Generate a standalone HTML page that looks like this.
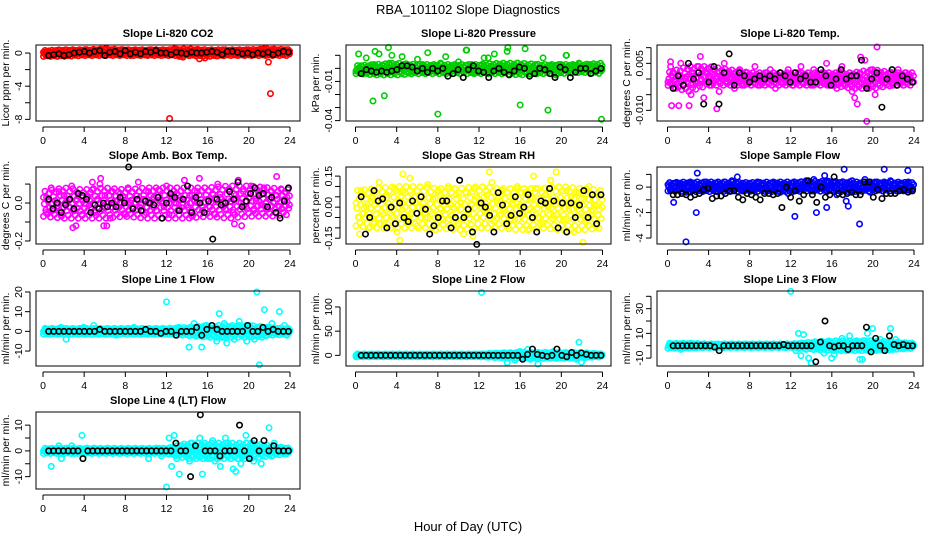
<!DOCTYPE html>
<html><head><meta charset="utf-8"><title>RBA_101102 Slope Diagnostics</title>
<style>
html,body{margin:0;padding:0;background:#fff;}
svg{display:block;font-family:"Liberation Sans",Arial,sans-serif;}
</style></head>
<body>
<svg id="chart" width="936" height="540" viewBox="0 0 936 540">
<text x="468" y="14" text-anchor="middle" font-size="13">RBA_101102  Slope Diagnostics</text>
<text x="468" y="531" text-anchor="middle" font-size="13">Hour of Day (UTC)</text>
<g id="panels"></g>
</svg>
<script>
// ---- data (hand-estimated from the reference) ----
const xTicks = [0,4,8,12,16,20,24];
// dense-band envelope per panel, every 2 hours (0..24)
const co2BandLo = [-0.4,-0.4,-0.3,-0.3,-0.3,-0.3,-0.3,-0.3,-0.4,-0.3,-0.3,-0.3,-0.3];
const co2BandHi = [0.3,0.4,0.4,0.5,0.4,0.4,0.4,0.5,0.4,0.4,0.4,0.5,0.4];
const presBandLo = [-0.004,-0.005,-0.005,-0.004,-0.004,-0.004,-0.004,-0.004,-0.005,-0.004,-0.004,-0.003,-0.004];
const presBandHi = [0.002,0.003,0.004,0.003,0.003,0.003,0.003,0.004,0.004,0.003,0.003,0.003,0.004];
const tempBandLo = [-0.002,-0.004,-0.002,-0.002,-0.002,-0.002,-0.002,-0.002,-0.002,-0.003,-0.003,-0.002,-0.002];
const tempBandHi = [0.002,0.004,0.004,0.003,0.002,0.002,0.002,0.002,0.002,0.002,0.003,0.002,0.002];
const ambBandLo = [-0.07,-0.08,-0.08,-0.08,-0.07,-0.08,-0.08,-0.08,-0.07,-0.08,-0.07,-0.07,-0.06];
const ambBandHi = [0.06,0.08,0.07,0.08,0.07,0.08,0.08,0.08,0.08,0.09,0.09,0.08,0.07];
const rhBandLo = [-0.09,-0.10,-0.10,-0.10,-0.10,-0.11,-0.10,-0.10,-0.11,-0.10,-0.11,-0.11,-0.10];
const rhBandHi = [0.08,0.09,0.10,0.10,0.09,0.09,0.10,0.09,0.09,0.09,0.10,0.09,0.08];
const flowBandLo = [-0.3,-0.35,-0.35,-0.35,-0.3,-0.35,-0.35,-0.3,-0.35,-0.35,-0.3,-0.3,-0.3];
const flowBandHi = [0.35,0.4,0.4,0.4,0.35,0.4,0.4,0.45,0.45,0.4,0.4,0.4,0.35];
const line1BandLo = [-1.5,-1.5,-1.5,-1.5,-1.5,-1.5,-1.5,-2,-3,-3,-3,-2,-1.5];
const line1BandHi = [1.5,1.5,1.5,1.5,1.5,1.5,1.5,2,3,3,3,2,1.5];
const line2BandLo = [-3,-3,-3,-3,-3,-3,-3,-5,-6,-6,-6,-5,-3];
const line2BandHi = [3,3,3,3,3,3,3,5,6,6,6,5,3];
const line3BandLo = [-2,-2,-1.5,-1.5,-1.5,-1.5,-1.5,-3,-4,-4,-4,-3,-2];
const line3BandHi = [2,2,1.5,1.5,1.5,1.5,1.5,3,4,4,4,3,2];
const line4BandLo = [-1,-1,-1,-1,-1,-1,-1,-3,-3,-3,-3,-2,-1];
const line4BandHi = [1,1,1,1,1,1,1,3,3,3,3,2,1];

const co2Color = [0.1,-0.3,0.2,0.0,-0.2,0.3,0.1,-0.1,0.2,-0.3,0.0,0.3,-0.2,0.1,0.2,-0.1,0.4,0.0,-0.2,0.1,0.3,-0.1,0.2,0.0,0.5,0.1,-0.2,0.3,0.0,0.2,-0.1,0.4,0.1,0.0,-0.3,0.2,0.3,-0.1,0.1,0.2,0.0,-0.2,0.4,0.1,0.2,-0.1,0.3,0.0,0.2,0.1,-0.2,0.5,0.0,-0.4,0.2,0.1,0.3,-0.1,0.0,0.2,0.4,-0.3,0.1,-0.6,0.2,0.0,0.3,0.1,-0.1,0.2,0.4,0.0,-0.2,0.1,0.3,0.2,-0.1,0.0,0.2,-0.2,0.4,0.1,0.0,-0.1,0.3,0.2,0.5,-0.2,0.1,0.0,0.3,-0.1,0.2,0.1,0.4,0.0,-0.1];
const co2OutX = [12.3,22.1,21.9,15.2,13.6];
const co2OutY = [-7.9,-4.9,-1.1,-0.7,-0.5];
const co2Black = [-0.3,-0.2,-0.1,-0.3,-0.2,0.0,0.1,0.2,0.0,0.2,0.3,-0.3,0.1,0.2,-0.1,0.3,-0.1,0.1,-0.1,0.2,0.1,0.3,0.0,0.0,-0.2,0.1,0.0,-0.1,0.1,0.0,0.0,0.1,0.2,0.1,-0.2,0.2,0.2,0.1,-0.1,0.0,-0.2,0.0,-0.1,0.1,-0.2,0.0,0.2,0.1];

// pressure values in thousandths of kPa/min
const presColor = [-2,0,2,-3,8,-1,1,3,-2,11,0,2,-1,4,10,0,-2,1,9,-1,2,0,-3,1,7,-1,3,0,12,1,-2,2,-1,4,0,9,1,-2,0,2,5,-1,1,14,0,3,-3,1,-1,2,8,0,-2,1,11,-1,3,0,2,13,0,-2,1,4,-1,2,15,0,-4,1,3,-1,0,8,-2,1,2,-1,-5,0,3,1,10,-1,0,2,1,4,0,-1,1,3,0,2,1,0,-1].map(v=>v/1000);
const presOutX = [1.7,2.8,8.0,16.0,18.7,23.9,3.2,14.8,10.8,0.3,1.9,20.5,12.9];
const presOutY = [-0.025,-0.021,-0.035,-0.028,-0.032,-0.039,0.016,0.016,0.014,0.011,0.013,0.010,0.008];
const presBlack = [-4,-1,-2,-3,-2,-3,-2,-1,2,2,1,-2,0,-3,0,-2,0,-6,-4,-1,-7,-1,2,-2,-3,-7,-2,0,-3,-5,-2,1,0,-6,-4,0,-1,-4,-7,1,-1,-7,-3,0,0,-4,-2,0].map(v=>v/1000);

// temperature values in thousandths
const tempColor = [-1,4,2,-3,1,5,-2,0,3,-5,2,-1,4,0,-6,2,1,-2,3,0,-4,1,5,-1,2,0,-3,1,3,-2,0,2,-1,1,4,0,-2,1,2,-1,3,0,-3,1,2,0,-1,3,1,-2,0,2,4,-1,1,0,-2,3,1,0,-1,2,5,-2,0,1,-3,2,4,0,-1,1,-4,-6,-8,2,0,6,-2,1,3,-5,0,2,1,-1,0,2,-2,1,3,0,-1,2,1,0,-1].map(v=>v/1000);
const tempOutX = [0.4,1.1,2.1,4.8,19.4,20.4,0.3,3.2,18.8];
const tempOutY = [-0.0085,-0.0085,-0.0085,-0.0095,-0.0135,0.0102,0.0055,0.0072,0.007];
const tempBlack = [-3,1,-2,5,0,2,-8,-1,4,-8,2,8,-2,2,1,-1,0,1,0,1,0,2,1,-1,2,0,1,-1,-1,3,1,-2,0,3,0,1,1,6,-3,0,2,-9,0,3,-2,1,0,-1].map(v=>v/1000);

// amb box temp in hundredths
const ambColor = [3,-5,2,8,-3,0,6,-7,4,1,-2,9,-4,2,5,-6,0,3,-1,7,-5,2,10,-3,4,0,-8,6,1,-2,5,3,-6,8,0,-3,4,11,-1,2,-5,6,0,3,-4,7,1,-2,9,-6,3,0,5,-3,2,12,-1,4,-7,1,6,0,-4,8,2,-2,5,-6,10,3,0,-3,7,1,-5,4,12,0,6,-2,3,9,-4,1,5,-1,8,-3,2,6,0,4,-2,7,1,3,-1].map(v=>v/100);
const ambOutX = [2.9,3.2,5.9,6.2,18.6,19.3,4.8,5.6,22.7,15.2];
const ambOutY = [-0.13,-0.12,-0.12,-0.12,-0.11,-0.12,0.11,0.13,0.14,0.13];
const ambBlack = [2,-3,0,-5,-1,2,-3,5,4,2,-5,-1,-3,0,-2,0,-2,3,0,19,-3,2,-4,1,0,-1,3,-8,0,5,3,-4,2,9,-5,3,0,-5,1,-19,2,-1,0,6,2,11,-2,1,5,8,4,5,-2,3,-5,-8,1,8].map(v=>v/100);

// RH in hundredths
const rhColor = [2,-5,8,-3,0,-10,5,-7,3,12,-2,-8,6,0,-4,9,-12,3,-1,7,-6,14,-3,2,-9,5,0,-5,11,-2,4,-11,8,-1,-6,3,10,-4,0,6,-8,2,-13,7,-3,1,9,-5,4,-10,0,6,-2,12,-7,3,-4,8,-1,-9,5,2,-6,10,0,-3,7,-11,4,-2,9,-5,1,-8,6,0,13,-4,3,-10,2,-6,8,-1,5,-12,0,7,-3,4,-7,10,-2,1,-9,6,0].map(v=>v/100);
const rhOutX = [4.3,19.5,13.0,22.1,0.4,4.6,11.4,17.3];
const rhOutY = [-0.16,0.17,0.17,-0.17,-0.13,0.16,-0.14,0.15];
const rhBlack = [5,-13,-5,8,3,4,-10,0,-8,2,-5,-7,3,-3,5,-1,-13,-9,-5,3,3,-10,-5,13,-5,-1,-12,-18,2,0,-4,-12,7,1,-8,-4,5,-3,0,6,-5,-12,3,2,9,3,-10,2,-12,2,-5,1,8,-5,6,-8,6].map(v=>v/100);

const flowColor = [0.2,-0.3,0.1,0.3,-0.2,0.0,0.2,-0.4,0.1,0.3,0.0,-0.2,0.2,0.1,-0.3,0.4,0.0,0.2,-0.1,0.3,0.1,-0.2,0.4,0.0,0.2,0.5,-0.1,0.3,0.1,-0.3,0.2,0.0,0.3,-0.2,0.1,0.4,-0.1,0.2,0.0,-0.3,0.1,0.3,0.0,0.2,-0.4,0.1,0.2,-0.5,0.0,0.3,0.1,-0.2,0.4,0.0,0.5,0.2,-0.3,0.6,0.1,-0.1,0.3,0.0,0.5,-0.2,0.2,0.4,-0.6,0.1,0.3,0.0,0.2,-0.2,0.5,0.1,0.0,0.3,-0.1,0.6,0.2,-0.4,0.1,0.4,0.0,0.2,-0.3,0.3,0.1,0.5,-0.1,0.2,0.0,0.3,-0.2,0.1,0.4,0.0,0.2];
const flowOutX = [1.8,0.6,2.8,2.9,12.4,14.5,15.5,17.4,17.6,18.7,17.2,21.1,23.4,15.3,6.8];
const flowOutY = [-4.3,-1.2,-2.0,1.1,-2.3,-2.0,-1.6,-1.1,-1.5,-2.9,1.4,1.4,1.3,0.9,0.8];
const flowBlack = [-0.6,-0.6,-0.5,-0.6,-0.8,-0.6,-0.5,-0.2,-0.1,-0.9,-0.7,-0.7,-0.5,-0.3,-0.3,-0.8,-1.0,-0.5,-0.6,-0.8,-1.0,-0.5,-0.5,-0.6,-0.5,-1.6,0.0,-0.8,-0.3,-1.1,-0.6,0.5,-0.6,-1.2,0.0,-0.8,-0.6,0.8,-0.5,-0.6,-0.5,-0.4,-0.6,-0.6,0.4,0.4,-0.8,-0.2,-0.9,-0.5,-0.5,-0.5,-0.3,-0.2,-0.4,-0.3];

const line1Color = [0,1,-1,0,1,0,-1,2,0,-4,0,1,0,-1,1,0,2,-1,0,1,3,0,-1,1,0,-1,0,1,0,-2,1,0,-1,0,1,0,2,0,-1,0,1,-1,0,1,0,-1,0,0,1,15,0,-1,1,0,2,-1,0,1,-8,2,4,-2,0,-8,1,3,-2,0,1,-5,9,-3,4,-6,-1,2,-4,0,5,-2,1,-5,3,0,-4,20,-17,-3,11,-2,2,4,-1,0,10,-1,3,-2,0];
const line1Black = [0,0,0,0,0,0,0,0,0,0,1,0,0,0,0,0,0,0,0,1,0,0,-1,0,0,-2,0,0,0,2,-2,1,3,1,0,0,0,0,0,3,0,0,2,0,1,0,0,0];

const line2Color = [0,1,-1,0,0,1,-1,0,2,0,-1,0,1,0,-1,0,1,0,0,-1,1,0,0,1,-1,0,0,1,0,-1,0,0,1,0,-1,0,1,0,0,-1,0,1,0,0,-1,0,0,0,0,130,1,-1,0,2,-1,0,1,-3,5,-15,3,0,-10,2,8,-5,0,12,-8,3,5,-18,-2,0,6,-4,2,8,-6,1,-3,0,4,-5,2,6,-8,27,-14,3,5,-2,0,4,-1,2,0];
const line2Black = [0,0,0,0,0,0,0,0,0,0,0,0,0,0,0,0,0,0,0,0,0,0,0,0,0,0,0,0,0,0,0,0,0,-8,2,13,2,0,-2,0,13,0,-3,6,0,5,2,0,0,0];

const line3Color = [-2,0,1,-1,0,-3,1,0,-1,2,0,-1,0,1,0,-1,0,1,0,0,-1,1,0,0,1,-1,0,0,1,0,-1,0,0,1,0,-1,0,1,0,0,-1,0,1,0,0,-1,0,0,44,1,-4,10,-8,9,-3,-10,-14,2,0,-2,1,-6,0,3,-10,-7,1,-3,6,2,-4,8,0,-1,3,-11,-11,4,10,-2,14,0,-3,5,2,-1,1,14,-3,5,0,2,-1,0,1,-2,0];
const line3Black = [0,0,0,0,0,0,0,0,0,-1,-4,0,0,0,0,0,0,0,0,0,0,0,0,0,1,0,0,0,0,0,0,-13,3,20,0,-1,0,0,-3,0,0,0,15,-5,6,0,-4,8,1,0,1,0,0];

const line4Color = [0,0,0,-6,0,0,2,-3,0,1,0,2,-1,0,0,6,0,1,0,0,1,0,0,0,0,1,0,0,0,0,0,0,0,0,0,0,0,0,0,0,-1,-3,0,0,0,1,-2,0,-14,5,-6,6,-3,-9,2,-1,0,-4,3,1,-2,5,-9,2,-3,0,4,-4,0,-6,1,5,3,0,-7,-8,0,-5,-2,6,0,3,-4,1,0,-5,2,0,9,-2,3,0,1,0,-1,0,0];
const line4Black = [0,0,0,0,0,0,0,-3,0,0,0,0,0,0,0,0,0,0,0,0,0,0,0,0,0,0,3,0,0,-10,2,14,0,0,0,-2,0,0,0,10,0,-3,4,0,4,0,2,0,0,0];

const yTicksCO2 = [-8,-6,-4,-2,0];            const yLabelsCO2 = ["-8","","-4","","0"];
const yTicksPres = [-0.04,-0.03,-0.02,-0.01,0,0.01]; const yLabelsPres = ["-0.04","","","-0.01","",""];
const yTicksTemp = [-0.010,-0.005,0,0.005,0.010];    const yLabelsTemp = ["-0.010","","","0.005",""];
const yTicksAmb = [-0.2,-0.1,0,0.1];          const yLabelsAmb = ["-0.2","","0.0",""];
const yTicksRH = [-0.15,-0.10,-0.05,0,0.05,0.10,0.15]; const yLabelsRH = ["-0.15","","","0.00","","","0.15"];
const yTicksFlow = [-4,-3,-2,-1,0,1];         const yLabelsFlow = ["-4","","-2","","0",""];
const yTicksL1 = [-10,0,10,20];               const yLabelsL1 = ["-10","0","10","20"];
const yTicksL2 = [0,50,100];                  const yLabelsL2 = ["0","50","100"];
const yTicksL3 = [-10,0,10,20,30,40];         const yLabelsL3 = ["-10","","10","","30",""];
const yTicksL4 = [-10,-5,0,5,10];             const yLabelsL4 = ["-10","","0","","10"];

// ---- layout ----
const cols = [{l:36,r:300,x0:43,x24:290},{l:346,r:611,x0:355.5,x24:602.5},{l:657,r:923,x0:667.5,x24:914}];
const rows = [{t:45,b:121},{t:167,b:244},{t:291,b:366},{t:412,b:489}];
const bandPattern = [0,0.5,1,0.25,0.75,0.1,0.6,0.9,0.35];
const NS = "http://www.w3.org/2000/svg";
const root = document.getElementById('panels');

function mk(tag, attrs, parent){
  const e = document.createElementNS(NS, tag);
  for (const k in attrs) e.setAttribute(k, attrs[k]);
  parent.appendChild(e);
  return e;
}

function panel(p){
  const c = cols[p.col], r = rows[p.row];
  const g = mk('g', {}, root);
  
  
  const xs = h => c.x0 + (h/24)*(c.x24 - c.x0);
  const ys = v => r.b - (v - p.ymin)/(p.ymax - p.ymin)*(r.b - r.t);

  const title = mk('text', {x:(c.l+c.r)/2, y:r.t-8, 'text-anchor':'middle', 'font-size':'11', 'font-weight':'bold'}, g);
  title.textContent = p.title;
  
  

  const yt = mk('text', {transform:`translate(${c.l-27},${(r.t+r.b)/2}) rotate(-90)`, 'text-anchor':'middle', 'font-size':'10.5'}, g);
  yt.textContent = p.ylab;
  
  

  const pts = mk('g', {fill:'none', 'stroke-width':'1.6'}, g);
  
  
  const dot = (x, y, col, nm) => {
    const cy = ys(y);
    if (cy < r.t - 1 || cy > r.b + 1) return;
    const e = mk('circle', {cx:xs(x), cy:cy, r:2.7, stroke:col}, pts);
    
    
  };
  // dense band from envelope arrays
  const nBand = 320;
  for (let k = 0; k < nBand; k++) {
    const h = 0.05 + k*23.9/(nBand-1);
    const seg = Math.min(p.bandLo.length-2, Math.floor(h/2));
    const t = h/2 - seg;
    const lo = p.bandLo[seg]*(1-t) + p.bandLo[seg+1]*t;
    const hi = p.bandHi[seg]*(1-t) + p.bandHi[seg+1]*t;
    dot(h, lo + bandPattern[k % bandPattern.length]*(hi-lo), p.col_c, p.name + '-band-point');
  }
  const n = p.color.length;
  p.color.forEach((v,i) => dot(0.05 + i*23.9/(n-1), v, p.col_c, p.name + '-point'));
  (p.outX||[]).forEach((x,i) => dot(x, p.outY[i], p.col_c, p.name + '-outlier'));
  const nb = p.black.length;
  p.black.forEach((v,i) => dot(0.55 + i*23.3/(nb-1), v, '#000', p.name + '-hourly-point'));

  const frame = mk('rect', {x:c.l, y:r.t, width:c.r-c.l, height:r.b-r.t, fill:'none', stroke:'#000', 'stroke-width':'1'}, g);
  
  

  const xa = mk('g', {}, g);
  
  
  mk('line', {x1:xs(xTicks[0]), x2:xs(xTicks[xTicks.length-1]), y1:r.b+6, y2:r.b+6, stroke:'#000'}, xa);
  xTicks.forEach(t => {
    mk('line', {x1:xs(t), x2:xs(t), y1:r.b+6, y2:r.b+11, stroke:'#000'}, xa);
    const tx = mk('text', {x:xs(t), y:r.b+23, 'text-anchor':'middle', 'font-size':'10.5'}, xa);
    tx.textContent = String(t);
    
    
  });

  const ya = mk('g', {}, g);
  
  
  const ty = p.yticks.map(ys);
  mk('line', {x1:c.l-6, x2:c.l-6, y1:Math.min(...ty), y2:Math.max(...ty), stroke:'#000'}, ya);
  p.yticks.forEach((t,i) => {
    const y = ys(t);
    mk('line', {x1:c.l-11, x2:c.l-6, y1:y, y2:y, stroke:'#000'}, ya);
    if (p.ylabels[i]) {
      const tx = mk('text', {transform:`translate(${c.l-14},${y}) rotate(-90)`, 'text-anchor':'middle', 'font-size':'10.5'}, ya);
      tx.textContent = p.ylabels[i];
      
      
    }
  });
}

panel({name:'co2', title:'Slope Li-820 CO2', ylab:'Licor ppm per min.', col:0,row:0, ymin:-8.2, ymax:0.97, col_c:'#ff0000', bandLo:co2BandLo, bandHi:co2BandHi, color:co2Color, outX:co2OutX, outY:co2OutY, black:co2Black, yticks:yTicksCO2, ylabels:yLabelsCO2});
panel({name:'pressure', title:'Slope Li-820 Pressure', ylab:'kPa per min.', col:1,row:0, ymin:-0.0403, ymax:0.0179, col_c:'#00cd00', bandLo:presBandLo, bandHi:presBandHi, color:presColor, outX:presOutX, outY:presOutY, black:presBlack, yticks:yTicksPres, ylabels:yLabelsPres});
panel({name:'temp', title:'Slope Li-820 Temp.', ylab:'degrees C per min.', col:2,row:0, ymin:-0.0134, ymax:0.01085, col_c:'#ff00ff', bandLo:tempBandLo, bandHi:tempBandHi, color:tempColor, outX:tempOutX, outY:tempOutY, black:tempBlack, yticks:yTicksTemp, ylabels:yLabelsTemp});
panel({name:'amb-box', title:'Slope Amb. Box Temp.', ylab:'degrees C per min.', col:0,row:1, ymin:-0.216, ymax:0.19, col_c:'#ff00ff', bandLo:ambBandLo, bandHi:ambBandHi, color:ambColor, outX:ambOutX, outY:ambOutY, black:ambBlack, yticks:yTicksAmb, ylabels:yLabelsAmb});
panel({name:'gas-rh', title:'Slope Gas Stream RH', ylab:'percent per min.', col:1,row:1, ymin:-0.178, ymax:0.194, col_c:'#ffff00', bandLo:rhBandLo, bandHi:rhBandHi, color:rhColor, outX:rhOutX, outY:rhOutY, black:rhBlack, yticks:yTicksRH, ylabels:yLabelsRH});
panel({name:'sample-flow', title:'Slope Sample Flow', ylab:'ml/min per min.', col:2,row:1, ymin:-4.47, ymax:1.58, col_c:'#0000ff', bandLo:flowBandLo, bandHi:flowBandHi, color:flowColor, outX:flowOutX, outY:flowOutY, black:flowBlack, yticks:yTicksFlow, ylabels:yLabelsFlow});
panel({name:'line1', title:'Slope Line 1 Flow', ylab:'ml/min per min.', col:0,row:2, ymin:-17.6, ymax:20.5, col_c:'#00ffff', bandLo:line1BandLo, bandHi:line1BandHi, color:line1Color, black:line1Black, yticks:yTicksL1, ylabels:yLabelsL1});
panel({name:'line2', title:'Slope Line 2 Flow', ylab:'ml/min per min.', col:1,row:2, ymin:-22, ymax:133, col_c:'#00ffff', bandLo:line2BandLo, bandHi:line2BandHi, color:line2Color, black:line2Black, yticks:yTicksL2, ylabels:yLabelsL2});
panel({name:'line3', title:'Slope Line 3 Flow', ylab:'ml/min per min.', col:2,row:2, ymin:-16.4, ymax:44.3, col_c:'#00ffff', bandLo:line3BandLo, bandHi:line3BandHi, color:line3Color, black:line3Black, yticks:yTicksL3, ylabels:yLabelsL3});
panel({name:'line4', title:'Slope Line 4 (LT) Flow', ylab:'ml/min per min.', col:0,row:3, ymin:-14.8, ymax:15.1, col_c:'#00ffff', bandLo:line4BandLo, bandHi:line4BandHi, color:line4Color, black:line4Black, yticks:yTicksL4, ylabels:yLabelsL4});
</script>
</body></html>
